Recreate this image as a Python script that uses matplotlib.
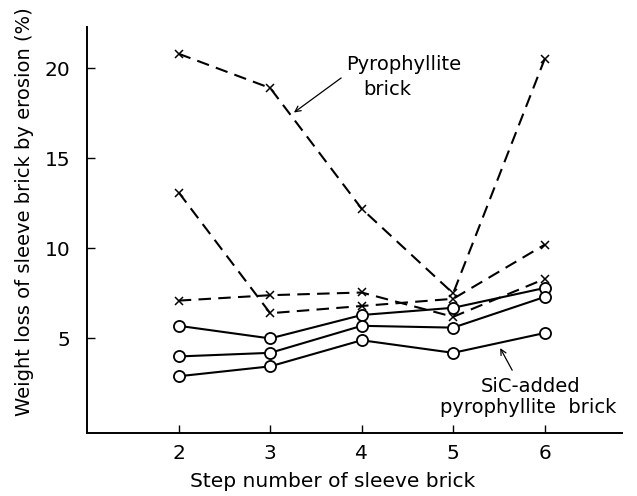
import matplotlib
matplotlib.use("Agg")
import matplotlib.pyplot as plt

# === data ===
steps = [2, 3, 4, 5, 6]

# pyrophyllite brick (dashed, x markers)
pyro_a = [20.8, 18.9, 12.2, 7.5, 20.5]
pyro_b = [13.1, 6.4, 6.8, 7.2, 10.2]
pyro_c = [7.1, 7.4, 7.55, 6.2, 8.3]

# SiC-added pyrophyllite brick (solid, open circles)
sic_a = [5.7, 5.0, 6.3, 6.7, 7.8]
sic_b = [4.0, 4.2, 5.7, 5.6, 7.3]
sic_c = [2.9, 3.45, 4.9, 4.2, 5.3]

y_ticks = [5, 10, 15, 20]
x_ticks = [2, 3, 4, 5, 6]

plt.rcParams['font.family'] = ['DejaVu Sans']

fig = plt.figure(figsize=(6.37, 4.96), dpi=100)
ax = fig.add_axes([0.137, 0.127, 0.84, 0.819])

for ys in (pyro_a, pyro_b, pyro_c):
    ax.plot(steps, ys, color='black', linestyle=(0, (6, 3.5)), linewidth=1.5,
            marker='x', markersize=6, markeredgewidth=1.1)

for ys in (sic_a, sic_b, sic_c):
    ax.plot(steps, ys, color='black', linestyle='-', linewidth=1.5,
            marker='o', markersize=8, markerfacecolor='white',
            markeredgecolor='black', markeredgewidth=1.3)

ax.set_xlim(1.0, 6.85)
ax.set_ylim(-0.25, 22.3)
ax.set_xticks(x_ticks)
ax.set_yticks(y_ticks)
ax.tick_params(direction='in', length=6, width=1.0, labelsize=14.5)
ax.tick_params(axis='y', pad=12)
ax.tick_params(axis='x', pad=8)

for side in ('top', 'right'):
    ax.spines[side].set_visible(False)
for side in ('left', 'bottom'):
    ax.spines[side].set_linewidth(1.4)

ax.set_xlabel("Step number of sleeve brick", fontsize=14.5)
ax.set_ylabel("Weight loss of sleeve brick by erosion (%)", fontsize=14)
ax.xaxis.set_label_coords(0.458, -0.095)
ax.yaxis.set_label_coords(-0.1, 0.545)

# annotations
ax.annotate("", xy=(3.235, 17.45), xytext=(3.80, 19.55),
            arrowprops=dict(arrowstyle='->', color='black', linewidth=0.9))
ax.text(3.83, 20.2, "Pyrophyllite", fontsize=14, ha='left', va='center')
ax.text(4.02, 18.8, "brick", fontsize=14, ha='left', va='center')

ax.annotate("", xy=(5.5, 4.6), xytext=(5.66, 3.1),
            arrowprops=dict(arrowstyle='->', color='black', linewidth=0.9))
ax.text(5.30, 2.33, "SiC-added", fontsize=14, ha='left', va='center')
ax.text(4.86, 1.17, "pyrophyllite  brick", fontsize=14, ha='left', va='center')

fig.savefig("out.png", dpi=100)
